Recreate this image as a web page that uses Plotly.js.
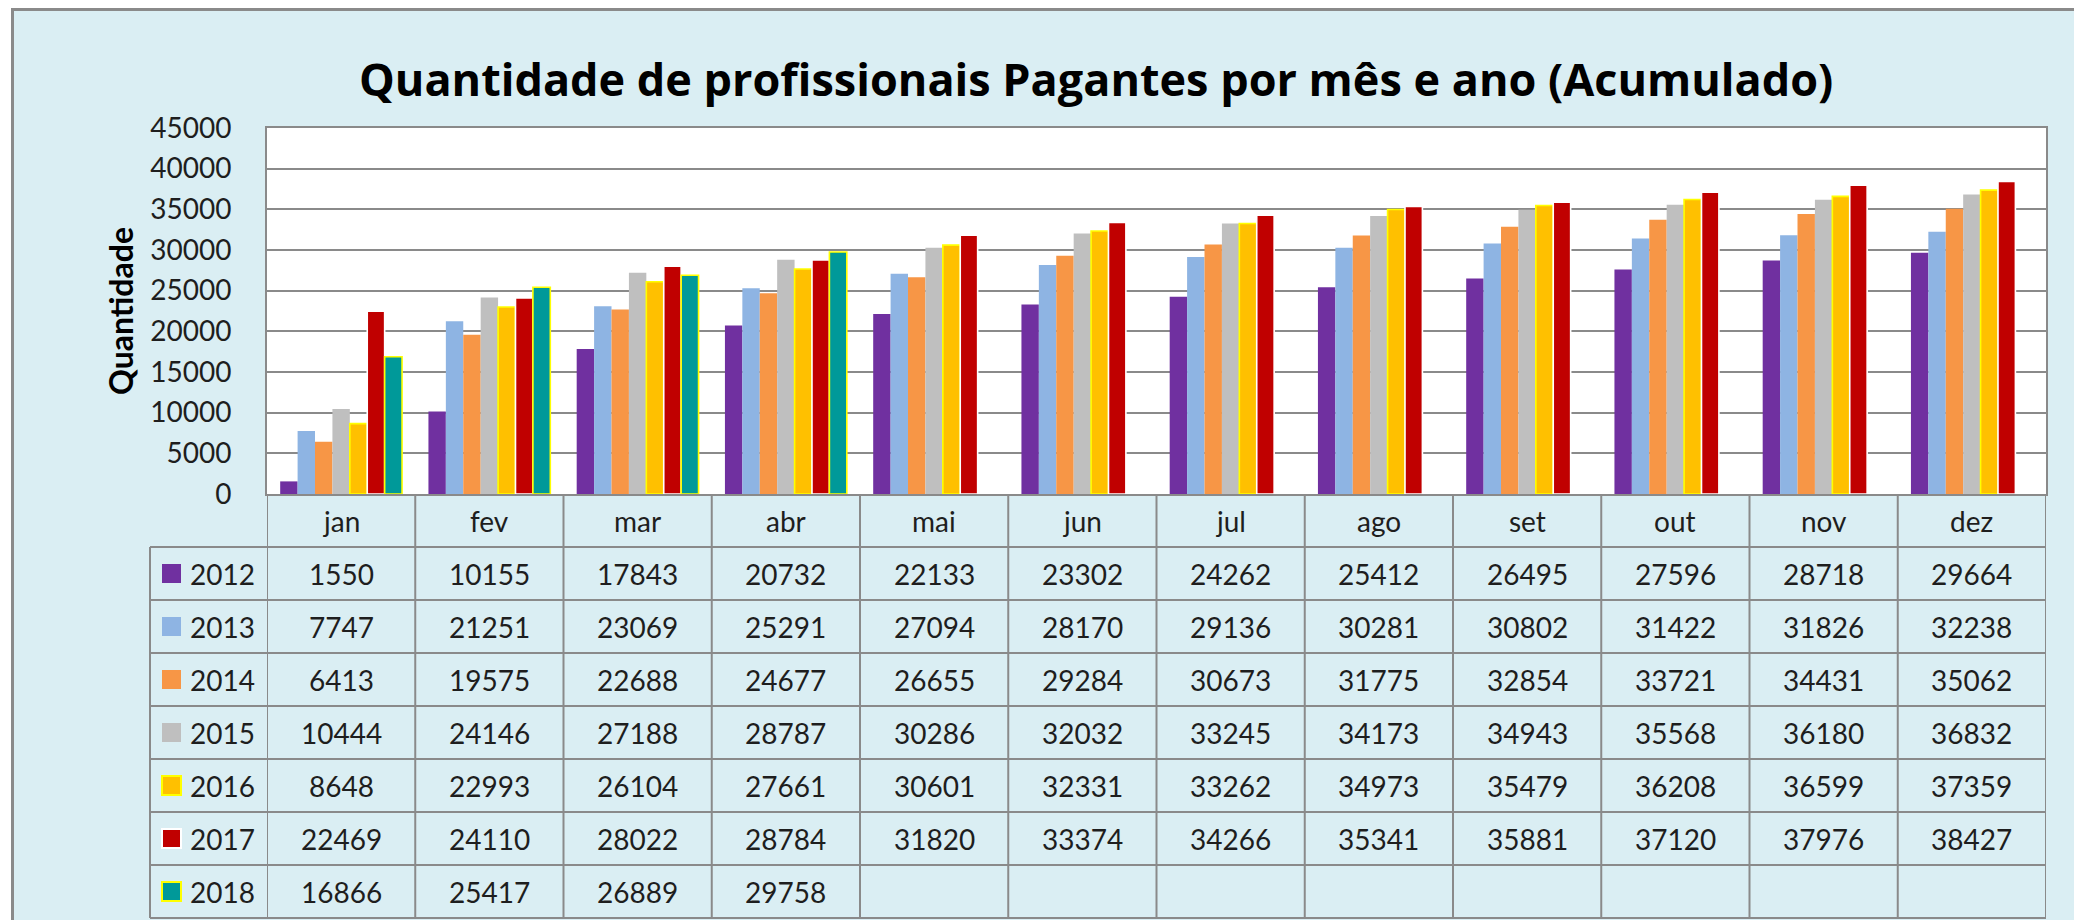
<!DOCTYPE html>
<html>
<head>
<meta charset="utf-8">
<script src="https://cdn.plot.ly/plotly-3.0.1.min.js"></script>
<style>
  html, body { margin: 0; padding: 0; background: #ffffff; width: 2074px; height: 920px; overflow: hidden; }
  #frame { position: absolute; left: 11px; top: 8px; width: 2120px; height: 960px; border: 3px solid #8a8a8a; background: #DAEEF3; }
  #chart { position: absolute; left: 0; top: 0; width: 2074px; height: 920px; }
</style>
</head>
<body>
<div id="frame"></div>
<div id="chart"></div>
<script>
// ---- data ----
const months = ['jan', 'fev', 'mar', 'abr', 'mai', 'jun', 'jul', 'ago', 'set', 'out', 'nov', 'dez'];
const years = ['2012', '2013', '2014', '2015', '2016', '2017', '2018'];
const v2012 = [1550, 10155, 17843, 20732, 22133, 23302, 24262, 25412, 26495, 27596, 28718, 29664];
const v2013 = [7747, 21251, 23069, 25291, 27094, 28170, 29136, 30281, 30802, 31422, 31826, 32238];
const v2014 = [6413, 19575, 22688, 24677, 26655, 29284, 30673, 31775, 32854, 33721, 34431, 35062];
const v2015 = [10444, 24146, 27188, 28787, 30286, 32032, 33245, 34173, 34943, 35568, 36180, 36832];
const v2016 = [8648, 22993, 26104, 27661, 30601, 32331, 33262, 34973, 35479, 36208, 36599, 37359];
const v2017 = [22469, 24110, 28022, 28784, 31820, 33374, 34266, 35341, 35881, 37120, 37976, 38427];
const v2018 = [16866, 25417, 26889, 29758, null, null, null, null, null, null, null, null];
const seriesValues = [v2012, v2013, v2014, v2015, v2016, v2017, v2018];
const chartTitle = 'Quantidade de profissionais Pagantes por mês e ano (Acumulado)';
const yTitle = 'Quantidade';

// ---- styles ----
const fills = ['#7030A0', '#8EB4E3', '#F79646', '#BFBFBF', '#FFC000', '#C00000', '#009999'];
const edges = [null, null, null, null, '#FFFF00', '#FFFFFF', '#FFFF00'];
const FONT = "Lato, 'Open Sans', sans-serif";
const TITLE_FONT = "'Open Sans', Lato, sans-serif";
const TXT = '#1e1e1e';
const GRID = '#8a8a8a';

// pixel geometry of the plot area
const W = 2074, H = 920;
const PL = 267, PR = 2046, PT = 128, PB = 494;
const PW = PR - PL, PH = PB - PT;
const px2x = p => (p - PL) / PW;     // paper x from pixel
const px2y = p => (PB - p) / PH;     // paper y from pixel

const traces = years.map((y, i) => ({
  type: 'bar',
  name: y,
  x: months,
  y: seriesValues[i],
  marker: {
    color: fills[i],
    line: edges[i] ? { color: edges[i], width: 1.6 } : { width: 0 }
  },
  hoverinfo: 'skip'
}));

// ---- data table (Excel style) ----
const headerTop = PB, headerH = 53, rowH = 53;
const tableLeft = 150;
const rowTop = k => headerTop + headerH + k * rowH;
const tableBottom = rowTop(years.length);

const shapes = [];
const annotations = [];
const lineStyle = { color: GRID, width: 2 };

// horizontal lines
for (let k = 0; k <= years.length; k++) {
  shapes.push({ type: 'line', xref: 'paper', yref: 'paper',
    x0: px2x(tableLeft), x1: 1, y0: px2y(rowTop(k)), y1: px2y(rowTop(k)), line: lineStyle });
}
// vertical lines at category boundaries
for (let j = 0; j <= months.length; j++) {
  shapes.push({ type: 'line', xref: 'x', yref: 'paper',
    x0: j - 0.5, x1: j - 0.5, y0: px2y(headerTop), y1: px2y(tableBottom), line: lineStyle });
}
// left edge of legend column
shapes.push({ type: 'line', xref: 'paper', yref: 'paper',
  x0: px2x(tableLeft), x1: px2x(tableLeft), y0: px2y(rowTop(0)), y1: px2y(tableBottom), line: lineStyle });

// month headers
months.forEach((m, j) => {
  annotations.push({ xref: 'x', yref: 'paper', x: m, y: px2y(headerTop + headerH / 2),
    text: m, showarrow: false, xanchor: 'center', yanchor: 'middle',
    font: { family: FONT, size: 28, color: TXT } });
});

// rows: legend key, year, values
years.forEach((yr, k) => {
  const cy = rowTop(k) + rowH / 2;
  const ks = 19;
  shapes.push({ type: 'rect', xref: 'paper', yref: 'paper',
    x0: px2x(162), x1: px2x(162 + ks), y0: px2y(cy - ks / 2), y1: px2y(cy + ks / 2),
    fillcolor: fills[k], line: edges[k] ? { color: edges[k], width: 2 } : { width: 0 } });
  annotations.push({ xref: 'paper', yref: 'paper', x: px2x(188), y: px2y(cy),
    text: yr, showarrow: false, xanchor: 'left', yanchor: 'middle',
    font: { family: FONT, size: 28, color: TXT } });
  seriesValues[k].forEach((v, j) => {
    if (v === null) return;
    annotations.push({ xref: 'x', yref: 'paper', x: months[j], y: px2y(cy),
      text: String(v), showarrow: false, xanchor: 'center', yanchor: 'middle',
      font: { family: FONT, size: 28, color: TXT } });
  });
});

// y axis title
annotations.push({ xref: 'paper', yref: 'paper', x: px2x(120), y: px2y((PT + PB) / 2),
  text: '<b>' + yTitle + '</b>', textangle: -90, showarrow: false, xanchor: 'center', yanchor: 'middle',
  font: { family: FONT, size: 32, color: '#000' } });

// chart title
annotations.push({ xref: 'paper', yref: 'paper', x: px2x(1096), y: px2y(78),
  text: '<b>' + chartTitle + '</b>', showarrow: false,
  xanchor: 'center', yanchor: 'middle',
  font: { family: TITLE_FONT, size: 45, color: '#000' } });

const layout = {
  width: W, height: H,
  margin: { l: PL, r: W - PR, t: PT, b: H - PB, pad: 0 },
  paper_bgcolor: 'rgba(0,0,0,0)',
  plot_bgcolor: '#ffffff',
  barmode: 'group',
  bargap: 0.178,
  bargroupgap: 0,
  showlegend: false,
  xaxis: {
    type: 'category', range: [-0.5, 11.5], showticklabels: false, ticks: '',
    showgrid: false, zeroline: false, showline: true, mirror: true, linecolor: GRID, linewidth: 2,
    fixedrange: true
  },
  yaxis: {
    range: [0, 45000], dtick: 5000, tick0: 0, tickformat: 'd',
    showgrid: true, gridcolor: GRID, gridwidth: 2, zeroline: false,
    showline: true, mirror: true, linecolor: GRID, linewidth: 2,
    ticks: 'outside', ticklen: 28, tickcolor: 'rgba(0,0,0,0)',
    tickfont: { family: FONT, size: 28, color: TXT },
    fixedrange: true
  },
  shapes: shapes,
  annotations: annotations
};

Plotly.newPlot('chart', traces, layout, { displayModeBar: false, staticPlot: true });
</script>
</body>
</html>
